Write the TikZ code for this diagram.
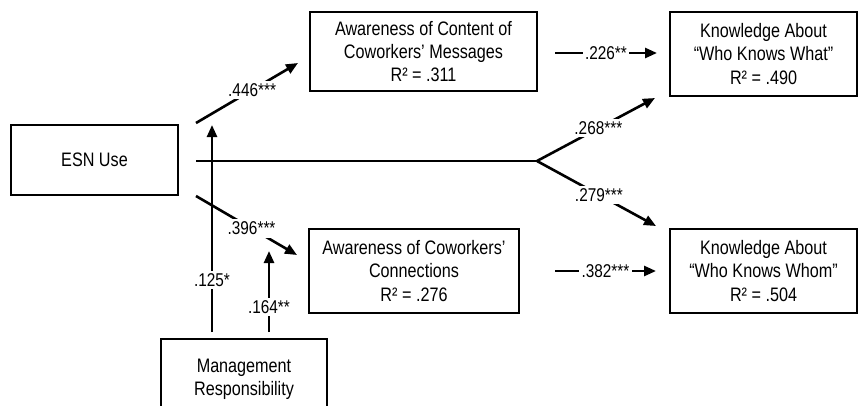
\documentclass[tikz,border=0pt]{standalone}
\usepackage{fontspec}
\setmainfont[FakeStretch=0.83]{Liberation Sans}
\usetikzlibrary{arrows.meta,calc}
\begin{document}
\begin{tikzpicture}[x=1pt,y=-1pt,
  box/.style={draw,line width=2.6pt,align=center,inner sep=0pt,
    font=\fontsize{19.5}{23.3}\selectfont},
  link/.style={line width=2.6pt},
  arr/.style={link,-{Triangle[length=12pt,width=10pt]}},
  coef/.style={fill=white,inner sep=2.5pt,font=\fontsize{18.5}{20}\selectfont}]
\useasboundingbox (0,0) rectangle (866,405);

% constructs
\node[box,minimum width=167pt,minimum height=70pt] (esn) at (94.5,160) {ESN Use};
\node[box,minimum width=227pt,minimum height=79pt] (content) at (423.5,51.5)
  {Awareness of Content of\\Coworkers’ Messages\\R² = .311};
\node[box,minimum width=210pt,minimum height=84pt] (conn) at (414,271)
  {Awareness of Coworkers’\\Connections\\R² = .276};
\node[box,minimum width=187pt,minimum height=84pt] (wkw) at (763.5,54)
  {Knowledge About\\“Who Knows What”\\R² = .490};
\node[box,minimum width=187pt,minimum height=84pt] (wkwh) at (763.5,271)
  {Knowledge About\\“Who Knows Whom”\\R² = .504};
\node[box,minimum width=166pt,minimum height=80pt] (mgmt) at (244,379)
  {Management\\Responsibility};

% path end points
\coordinate (e1) at (196,123);
\coordinate (e2) at (196,161);
\coordinate (e3) at (196,196);
\coordinate (fork) at (537,161);
\coordinate (t1) at (298,63);
\coordinate (t3) at (297,255);
\coordinate (k1) at (655,98);
\coordinate (k2) at (656,226);
\coordinate (m1) at (212,332);
\coordinate (m1t) at (212,125);
\coordinate (m2) at (269,332);
\coordinate (m2t) at (269,251);
\coordinate (a1) at (555,53);
\coordinate (a1t) at (657,53);
\coordinate (a2) at (555,271);
\coordinate (a2t) at (656,271);

% moderation by management responsibility
\draw[arr] (m1) -- node[coef,pos=0.25]{.125*} (m1t);
\draw[arr] (m2) -- node[coef,pos=0.31]{.164**} (m2t);

% paths from ESN use
\draw[arr] (e1) -- node[coef,pos=0.55]{.446***} (t1);
\draw[arr] (e3) -- node[coef,pos=0.55]{.396***} (t3);
\draw[link] (e2) -- (fork);
\draw[arr] (fork) -- node[coef,pos=0.52]{.268***} (k1);
\draw[arr] (fork) -- node[coef,pos=0.52]{.279***} (k2);

% awareness to knowledge
\draw[arr] (a1) -- node[coef]{.226**} (a1t);
\draw[arr] (a2) -- node[coef]{.382***} (a2t);
\end{tikzpicture}
\end{document}
